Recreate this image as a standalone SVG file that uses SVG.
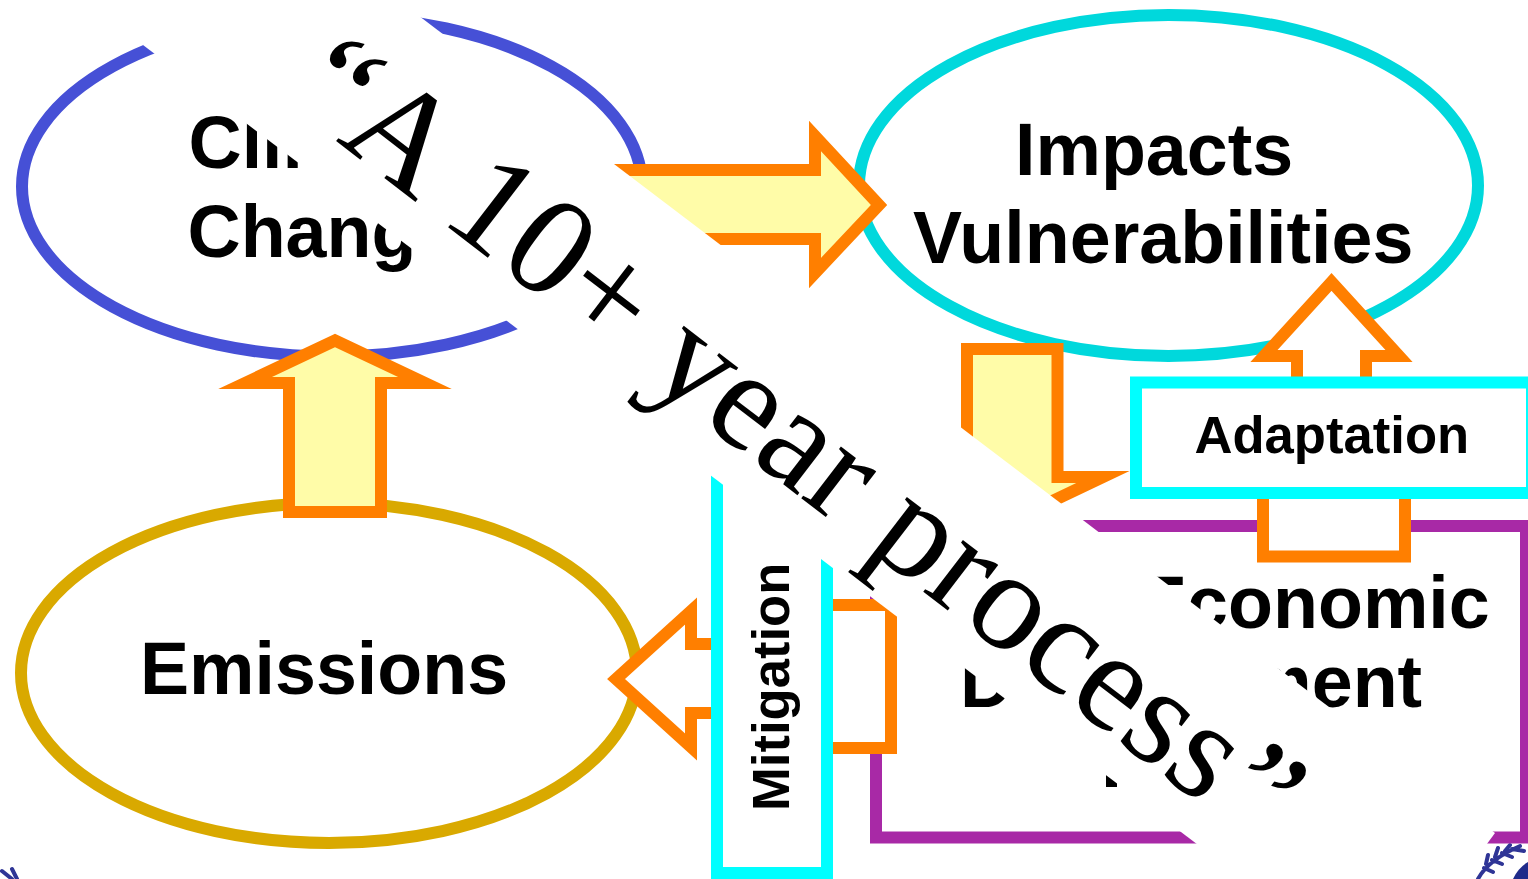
<svg xmlns="http://www.w3.org/2000/svg" width="1528" height="879" viewBox="0 0 1528 879">
<style>
.oval{fill:#fff;stroke-width:12}
.lbl{font-family:"Liberation Sans",Arial,sans-serif;font-weight:700;font-size:73.6px;fill:#000}
.box{fill:#fff;stroke:#00ffff;stroke-width:12}
.blbl{font-family:"Liberation Sans",Arial,sans-serif;font-weight:700;font-size:52.6px;fill:#000}
.arr{stroke:#ff7f00;stroke-width:12;stroke-miterlimit:10;stroke-linejoin:miter}
.y{fill:#fffca8}
.w{fill:#fff}
.leaf{fill:none;stroke:#2f3596;stroke-width:4;stroke-linecap:round}
</style>
<rect width="1528" height="879" fill="#fff"/>
<g id="logo-left"><path class="leaf" d="M2 871L12 879M12 869L17 879"/></g>
<g id="logo-right">
<path class="leaf" d="M1478 879Q1488 860 1520 846M1484 868L1493 872M1492 860L1502 864M1502 853L1512 857M1512 849L1524 851M1486 864L1488 855M1495 857L1498 848M1505 851L1510 845"/>
<path d="M1513 879Q1518 868 1528 862V879Z" fill="#1f2a8a"/>
</g>
<g id="climate-change">
<ellipse class="oval" cx="332" cy="186.5" rx="310" ry="170" stroke="#4650d6"/>
<text class="lbl" x="188.5" y="168">Climate</text>
<text class="lbl" x="187.5" y="257">Change</text>
</g>
<g id="impacts">
<ellipse class="oval" cx="1168.5" cy="185.5" rx="309.5" ry="170.5" stroke="#00d8dc"/>
<text class="lbl" x="1015" y="175">Impacts</text>
<text class="lbl" x="913" y="263">Vulnerabilities</text>
</g>
<g id="emissions">
<ellipse class="oval" cx="329" cy="673" rx="308" ry="170" stroke="#d9a900"/>
<text class="lbl" x="140" y="694">Emissions</text>
</g>
<g id="development">
<rect x="876" y="526" width="650" height="311.5" fill="#fff" stroke="#a829a6" stroke-width="12"/>
<text class="lbl" x="1138" y="628">Economic</text>
<text class="lbl" x="960" y="707">Development</text>
<rect x="1106" y="765" width="11" height="22" fill="#000"/>
</g>
<g id="connectors">
<path class="arr y" d="M560 170H815V136L879 205L815 273V239H560Z"/>
<path class="arr y" d="M335 340.5L245 383H289V512H381V383H425Z"/>
<path class="arr y" d="M967 349H1057.5V477H1103L1040 507H967Z"/>
<path class="arr w" d="M1331.5 282L1264 356H1297V420H1366V356H1399Z"/>
<path class="arr w" d="M1263 480V556.5H1405V480Z"/>
<path class="arr w" d="M760 644H691V611L616 679L691 747V713H760Z"/>
<path class="arr w" d="M800 605H891V748H800Z"/>
</g>
<g id="adaptation">
<rect class="box" x="1136" y="382.5" width="396" height="110.5"/>
<text class="blbl" x="1194.5" y="453">Adaptation</text>
</g>
<g id="mitigation">
<rect class="box" x="717" y="400" width="110" height="473"/>
<text class="blbl" transform="translate(789 811) rotate(-90)">Mitigation</text>
</g>
<g id="banner">
<polygon points="143,45 177,0 398,0 1495,833 1461,879 1243,879" fill="#fff"/>
<text transform="translate(285 102) rotate(37.5)" font-family="'Liberation Serif','Times New Roman',serif" font-size="142" fill="#000">“A 10+ year process<tspan dx="7">”</tspan></text>
</g>
</svg>
